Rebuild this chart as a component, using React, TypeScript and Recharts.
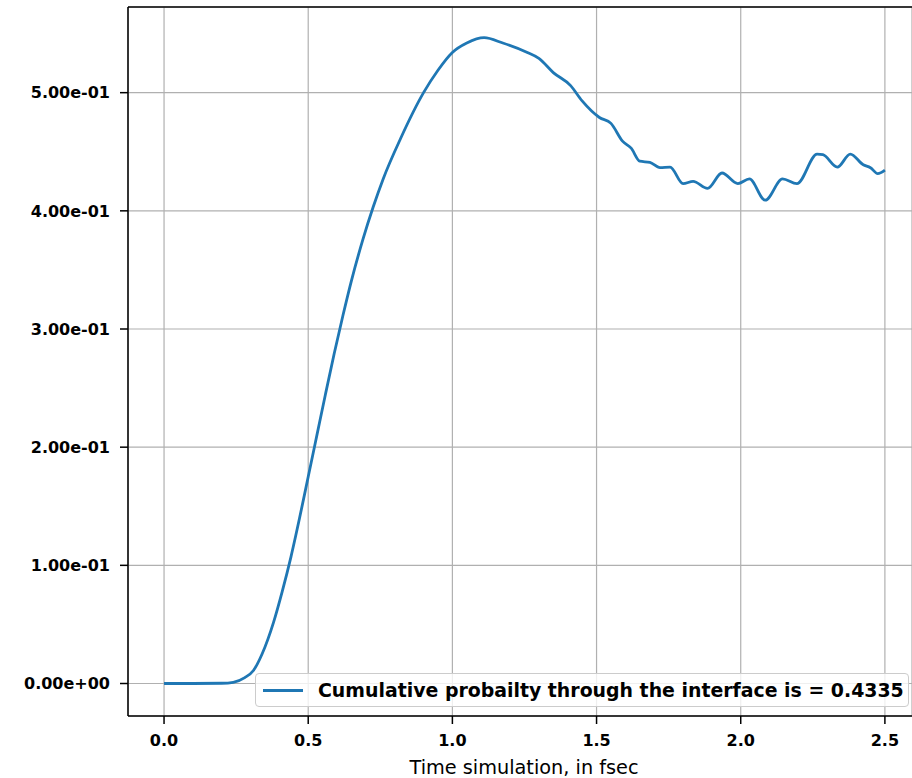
import React from "react";
import {
  CartesianGrid,
  Legend,
  Line,
  LineChart,
  XAxis,
  YAxis,
} from "recharts";

// time axis (fsec) and cumulative transmission probability
const timeFs = [
  0, 0.1, 0.2, 0.24, 0.28, 0.31, 0.34, 0.38, 0.41, 0.44, 0.47, 0.5, 0.53,
  0.56, 0.59, 0.62, 0.65, 0.69, 0.725, 0.76, 0.82, 0.9, 0.95, 1.0, 1.05, 1.11,
  1.175, 1.26, 1.3, 1.35, 1.41, 1.45, 1.51, 1.55, 1.59, 1.62, 1.65, 1.685,
  1.72, 1.755, 1.8, 1.835, 1.885, 1.935, 1.99, 2.03, 2.085, 2.145, 2.195,
  2.265, 2.285, 2.335, 2.38, 2.425, 2.45, 2.475, 2.5,
];
const cumulativeProb = [
  0, 0, 0.0002, 0.001, 0.005, 0.011, 0.025, 0.052, 0.078, 0.107, 0.14, 0.175,
  0.21, 0.245, 0.279, 0.311, 0.341, 0.376, 0.403, 0.427, 0.461, 0.5, 0.519,
  0.534, 0.542, 0.5465, 0.542, 0.534, 0.529, 0.517, 0.506, 0.493, 0.479, 0.474,
  0.459, 0.453, 0.442, 0.441, 0.4365, 0.437, 0.423, 0.425, 0.419, 0.432, 0.423,
  0.427, 0.409, 0.427, 0.423, 0.448, 0.4475, 0.437, 0.448, 0.439, 0.4365,
  0.4315, 0.4345,
];
const xTicks = [0, 0.5, 1.0, 1.5, 2.0, 2.5];
const yTicks = [0, 0.1, 0.2, 0.3, 0.4, 0.5];
const legendLabel = "Cumulative probailty through the interface is = 0.4335";
const xLabel = "Time simulation, in fsec";

const data = timeFs.map((t, i) => ({ t, p: cumulativeProb[i] }));

const FONT = "DejaVu Sans";
const BLUE = "#1f77b4";
const X_DOMAIN: [number, number] = [-0.125, 2.594];
const Y_DOMAIN: [number, number] = [-0.0275, 0.5725];

const sci = (v: number) => {
  if (v === 0) return "0.00e+00";
  const e = Math.floor(Math.log10(Math.abs(v)) + 1e-9);
  const m = v / Math.pow(10, e);
  return `${m.toFixed(2)}e${e < 0 ? "-" : "+"}${String(Math.abs(e)).padStart(2, "0")}`;
};

const tickStyle = { fontSize: 16, fontWeight: "bold" as const, fill: "#000", fontFamily: FONT };
const spine = { stroke: "#000", strokeWidth: 1.5 };

const LegendBox = () => (
  <div
    style={{
      width: 654,
      height: 34,
      boxSizing: "border-box",
      background: "rgba(255,255,255,0.8)",
      border: "1px solid #cccccc",
      borderRadius: 4,
      display: "flex",
      alignItems: "center",
      fontFamily: FONT,
      fontWeight: "bold",
      fontSize: 18.9,
      color: "#000",
      whiteSpace: "nowrap",
    }}
  >
    <span style={{ display: "inline-block", width: 40, height: 3, background: BLUE, marginLeft: 7, marginRight: 15 }} />
    <span>{legendLabel}</span>
  </div>
);

export default function App() {
  return (
    <div style={{ position: "absolute", left: 0, top: 0, width: 912, height: 778, overflow: "hidden", background: "#fff" }}>
      <LineChart width={912} height={778} data={data} margin={{ top: 0, right: 0, bottom: 0, left: 0 }}>
        <CartesianGrid stroke="#b0b0b0" strokeWidth={1.2} />
        <XAxis
          type="number"
          dataKey="t"
          domain={X_DOMAIN}
          ticks={xTicks}
          allowDataOverflow
          tickFormatter={(v: number) => v.toFixed(1)}
          tick={tickStyle}
          tickSize={8}
          tickMargin={11}
          axisLine={spine}
          tickLine={spine}
          height={62}
          label={{ value: xLabel, position: "insideBottom", offset: 4, dx: 4, style: { fontSize: 19.3, fill: "#000", fontFamily: FONT } }}
        />
        <XAxis
          xAxisId="top"
          orientation="top"
          type="number"
          dataKey="t"
          domain={X_DOMAIN}
          allowDataOverflow
          ticks={xTicks}
          tick={false}
          tickLine={false}
          axisLine={spine}
          height={7}
        />
        <YAxis
          type="number"
          domain={Y_DOMAIN}
          ticks={yTicks}
          allowDataOverflow
          tickFormatter={sci}
          tick={tickStyle}
          tickSize={8}
          tickMargin={10}
          axisLine={spine}
          tickLine={spine}
          width={128}
        />
        <Legend
          layout="vertical"
          align="center"
          verticalAlign="middle"
          content={() => <LegendBox />}
          wrapperStyle={{ left: 255, top: 673, width: 654, height: 34 }}
        />
        <Line
          type="monotone"
          dataKey="p"
          stroke={BLUE}
          strokeWidth={2.8}
          dot={false}
          isAnimationActive={false}
        />
      </LineChart>
    </div>
  );
}
